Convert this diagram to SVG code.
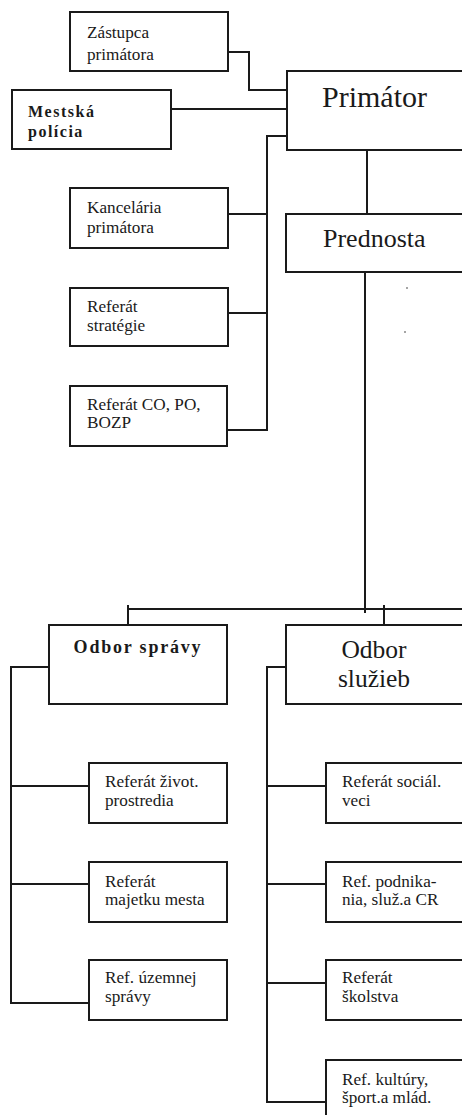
<svg xmlns="http://www.w3.org/2000/svg" width="462" height="1115" viewBox="0 0 462 1115">
<style>
.box{fill:#fff;stroke:#1a1a1a;stroke-width:2}
.ln{fill:none;stroke:#1a1a1a;stroke-width:2}
text{font-family:"Liberation Serif","Times New Roman",Tinos,"DejaVu Serif",serif;fill:#1a1a1a}
.t{font-size:17.2px}
.b{font-weight:bold}
</style>
<rect width="462" height="1115" fill="#fff"/>
<g id="connectors">
<polyline class="ln" points="228,52 249,52 249,90 287,90"/>
<line class="ln" x1="171" y1="109" x2="287" y2="109"/>
<polyline class="ln" points="287,136 267,136 267,430 226,430"/>
<line class="ln" x1="226" y1="214" x2="267" y2="214"/>
<line class="ln" x1="226" y1="313" x2="267" y2="313"/>
<line class="ln" x1="367" y1="150" x2="367" y2="214"/>
<line class="ln" x1="365" y1="272" x2="365" y2="613"/>
<line class="ln" x1="128" y1="609" x2="462" y2="609"/>
<line class="ln" x1="128" y1="605" x2="128" y2="625"/>
<line class="ln" x1="384" y1="605" x2="384" y2="625"/>
<polyline class="ln" points="49,667 11,667 11,1003 89,1003"/>
<line class="ln" x1="11" y1="786" x2="89" y2="786"/>
<line class="ln" x1="11" y1="884" x2="89" y2="884"/>
<polyline class="ln" points="286,667 267,667 267,1102 326,1102"/>
<line class="ln" x1="267" y1="786" x2="326" y2="786"/>
<line class="ln" x1="267" y1="884" x2="326" y2="884"/>
<line class="ln" x1="267" y1="983" x2="326" y2="983"/>
</g>
<g id="zastupca"><rect class="box" x="70" y="12" width="158" height="59"/><text class="t" x="87" y="38">Zástupca</text><text class="t" x="87" y="60">primátora</text></g>
<g id="primator"><rect class="box" x="287" y="71" width="190" height="79"/><text x="322" y="107" font-size="30">Primátor</text></g>
<g id="mestska"><rect class="box" x="12" y="90" width="159" height="59"/><text class="b" x="28" y="117" font-size="16" letter-spacing="1.5">Mestská</text><text class="b" x="28" y="137" font-size="16" letter-spacing="1.5">polícia</text></g>
<g id="kancelaria"><rect class="box" x="70" y="188" width="158" height="60"/><text class="t" x="87" y="213">Kancelária</text><text class="t" x="87" y="233">primátora</text></g>
<g id="prednosta"><rect class="box" x="286" y="214" width="190" height="58"/><text x="323" y="247" font-size="26">Prednosta</text>
<circle cx="407" cy="288" r="0.8" fill="#333"/><circle cx="405" cy="332" r="0.8" fill="#333"/></g>
<g id="strategie"><rect class="box" x="70" y="288" width="158" height="58"/><text class="t" x="87" y="312">Referát</text><text class="t" x="87" y="331">stratégie</text></g>
<g id="co"><rect class="box" x="70" y="386" width="157" height="60"/><text class="t" x="87" y="410">Referát CO, PO,</text><text class="t" x="87" y="428">BOZP</text></g>
<g id="odbor-spravy"><rect class="box" x="49" y="625" width="178" height="79"/><text class="b" x="138" y="653" font-size="18" letter-spacing="1.8" text-anchor="middle">Odbor správy</text></g>
<g id="odbor-sluzieb"><rect class="box" x="286" y="625" width="190" height="79"/><text x="374" y="658" font-size="25.5" text-anchor="middle">Odbor</text><text x="374" y="687" font-size="25.5" text-anchor="middle">služieb</text></g>
<g id="zivot"><rect class="box" x="89" y="763" width="138" height="60"/><text class="t" x="105" y="787">Referát život.</text><text class="t" x="105" y="806">prostredia</text></g>
<g id="majetok"><rect class="box" x="89" y="862" width="138" height="60"/><text class="t" x="105" y="887">Referát</text><text class="t" x="105" y="905">majetku mesta</text></g>
<g id="uzemna"><rect class="box" x="89" y="960" width="138" height="60"/><text class="t" x="105" y="983">Ref. územnej</text><text class="t" x="105" y="1002">správy</text></g>
<g id="social"><rect class="box" x="326" y="763" width="150" height="60"/><text class="t" x="342" y="787">Referát sociál.</text><text class="t" x="342" y="806">veci</text></g>
<g id="podnikanie"><rect class="box" x="326" y="862" width="150" height="60"/><text class="t" x="342" y="887">Ref. podnika-</text><text class="t" x="342" y="905">nia, služ.a CR</text></g>
<g id="skolstvo"><rect class="box" x="326" y="960" width="150" height="60"/><text class="t" x="342" y="983">Referát</text><text class="t" x="342" y="1002">školstva</text></g>
<g id="kultura"><rect class="box" x="326" y="1060" width="150" height="70"/><text class="t" x="342" y="1085">Ref. kultúry,</text><text class="t" x="342" y="1103">šport.a mlád.</text></g>
</svg>
